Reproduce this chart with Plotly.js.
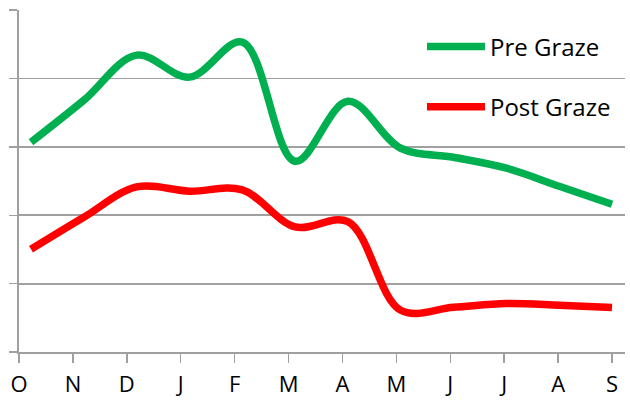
<!DOCTYPE html>
<html>
<head>
<meta charset="utf-8">
<script src="https://cdn.plot.ly/plotly-3.0.1.min.js"></script>
<style>
  html, body { margin: 0; padding: 0; background: #fff; }
</style>
</head>
<body>
<div id="chart" style="width:630px;height:401px;"></div>
<script>
// month labels on the axis, samples taken once a month
var months = ["O", "N", "D", "J", "F", "M", "A", "M", "J", "J", "A", "S"];
var sampleIdx = [0, 1, 2, 3, 4, 5, 6, 7, 8, 9, 10, 11];

// pasture cover (axis values are hidden in the original)
var preGraze  = [1534, 1841, 2171, 2010, 2266, 1395, 1834, 1490, 1424, 1344, 1212, 1081];
var postGraze = [751, 985, 1207, 1176, 1185, 915, 953, 305, 327, 354, 342, 325];

var gridCol = "#a0a0a0";
var fnt = "'Open Sans', sans-serif";

var traces = [
    // empty trace so the month axis gets drawn
    {
        x: sampleIdx,
        y: sampleIdx.map(function () { return null; }),
        type: "scatter",
        mode: "lines",
        xaxis: "x",
        showlegend: false,
        hoverinfo: "skip"
    },
    {
        x: sampleIdx,
        y: preGraze,
        name: "Pre Graze",
        type: "scatter",
        mode: "lines",
        xaxis: "x2",
        line: {color: "#00b050", width: 7.5, shape: "spline", smoothing: 1},
        legend: "legend"
    },
    {
        x: sampleIdx,
        y: postGraze,
        name: "Post Graze",
        type: "scatter",
        mode: "lines",
        xaxis: "x2",
        line: {color: "#ff0000", width: 7.5, shape: "spline", smoothing: 1},
        legend: "legend2"
    }
];

var layout = {
    width: 630,
    height: 401,
    margin: {l: 19, r: 5, t: 10, b: 49},
    paper_bgcolor: "#fff",
    plot_bgcolor: "#fff",
    font: {family: fnt, size: 24, color: "#000"},
    // label axis: months sit on the tick marks
    xaxis: {
        range: [0, 11.24],
        tickmode: "array",
        tickvals: sampleIdx,
        ticktext: months,
        ticks: "outside",
        ticklen: 9,
        tickwidth: 1.5,
        tickcolor: gridCol,
        showgrid: false,
        zeroline: false,
        showline: true,
        linecolor: gridCol,
        linewidth: 2,
        tickfont: {family: fnt, size: 22, color: "#000"},
        ticklabelstandoff: 3
    },
    // data axis, overlays the label axis
    xaxis2: {
        overlaying: "x",
        range: [-0.227, 11.246],
        visible: false
    },
    yaxis: {
        range: [0, 2501],
        dtick: 500,
        tick0: 0,
        showticklabels: false,
        ticks: "outside",
        ticklen: 8,
        tickwidth: 1.5,
        tickcolor: gridCol,
        showgrid: true,
        gridcolor: gridCol,
        gridwidth: 1.8,
        zeroline: false,
        showline: true,
        linecolor: gridCol,
        linewidth: 2
    },
    legend: {
        x: 0.665, y: 0.892, xanchor: "left", yanchor: "middle",
        bgcolor: "rgba(0,0,0,0)",
        font: {family: fnt, size: 24, color: "#000"},
        itemwidth: 58
    },
    legend2: {
        x: 0.665, y: 0.716, xanchor: "left", yanchor: "middle",
        bgcolor: "rgba(0,0,0,0)",
        font: {family: fnt, size: 24, color: "#000"},
        itemwidth: 58
    },
    showlegend: true
};

Plotly.newPlot("chart", traces, layout, {displayModeBar: false, staticPlot: true});
</script>
</body>
</html>
